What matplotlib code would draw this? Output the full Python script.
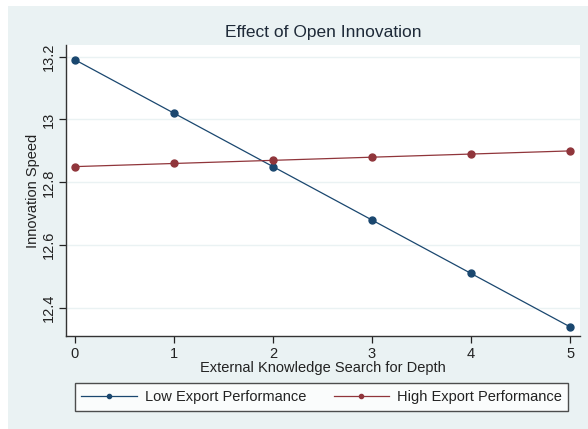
import matplotlib
matplotlib.use("Agg")
import matplotlib.pyplot as plt
from matplotlib.patches import Rectangle

# Predicted innovation speed by external knowledge search depth
depth = [0, 1, 2, 3, 4, 5]
low_export = [13.19, 13.02, 12.85, 12.68, 12.51, 12.34]
high_export = [12.85, 12.86, 12.87, 12.88, 12.89, 12.90]
series_labels = ["Low Export Performance", "High Export Performance"]
y_ticks = [12.4, 12.6, 12.8, 13.0, 13.2]
y_tick_labels = ["12.4", "12.6", "12.8", "13", "13.2"]

plt.rcParams['font.family'] = ['Liberation Sans', 'DejaVu Sans']

NAVY = "#1a476f"
MAROON = "#90353b"
BG = "#eaf2f3"

W, H = 588, 429
fig = plt.figure(figsize=(W / 100, H / 100), dpi=100)
fig.patch.set_facecolor("white")
fig.patches.append(Rectangle((8 / W, 0), 1 - 8 / W, 1 - 6 / H,
                             transform=fig.transFigure, facecolor=BG,
                             edgecolor="none", zorder=-10))

ax = fig.add_axes([66 / W, 1 - 336 / H, (580 - 66) / W, (336 - 45) / H])
ax.set_facecolor("white")

l1, = ax.plot(depth, low_export, color=NAVY, lw=0.9, marker="o", ms=5,
              markerfacecolor=NAVY, markeredgecolor=NAVY, zorder=3)
l2, = ax.plot(depth, high_export, color=MAROON, lw=0.9, marker="o", ms=5,
              markerfacecolor=MAROON, markeredgecolor=MAROON, zorder=3)

ax.set_xlim(-0.09, 5.1)
ax.set_ylim(12.311, 13.237)
ax.set_xticks(depth)
ax.set_yticks(y_ticks)
ax.set_yticklabels(y_tick_labels, rotation=90, va="center")
ax.grid(axis="y", color="#eaf2f3", lw=1.0)
ax.set_axisbelow(True)

for s in ["top", "right"]:
    ax.spines[s].set_visible(False)
for s in ["left", "bottom"]:
    ax.spines[s].set_color("#333333")
    ax.spines[s].set_linewidth(1.0)

ax.tick_params(axis="both", colors="#222222", labelsize=10.5, length=5,
               width=0.9, direction="out")
ax.tick_params(axis="x", pad=3)
ax.tick_params(axis="y", pad=2)

ax.set_xlabel("External Knowledge Search for Depth", fontsize=10.5,
              color="#222222", labelpad=0)
ax.set_ylabel("Innovation Speed", fontsize=10.5, color="#222222", labelpad=2)
ax.set_title("Effect of Open Innovation", fontsize=12.5, color="#1e2a38",
             pad=6)

leg = fig.legend([l1, l2], series_labels, loc="center",
                 bbox_to_anchor=((70 + 573) / 2 / W, 1 - 397 / H),
                 ncol=2, frameon=True, fancybox=False, fontsize=10.5,
                 handlelength=3.8, columnspacing=1.9, borderpad=0.45,
                 handletextpad=0.55, markerscale=0.6)
leg.get_frame().set_edgecolor("#222222")
leg.get_frame().set_linewidth(1.0)
leg.get_frame().set_facecolor("white")
for t in leg.get_texts():
    t.set_color("#222222")

fig.savefig("out.png", dpi=100)
